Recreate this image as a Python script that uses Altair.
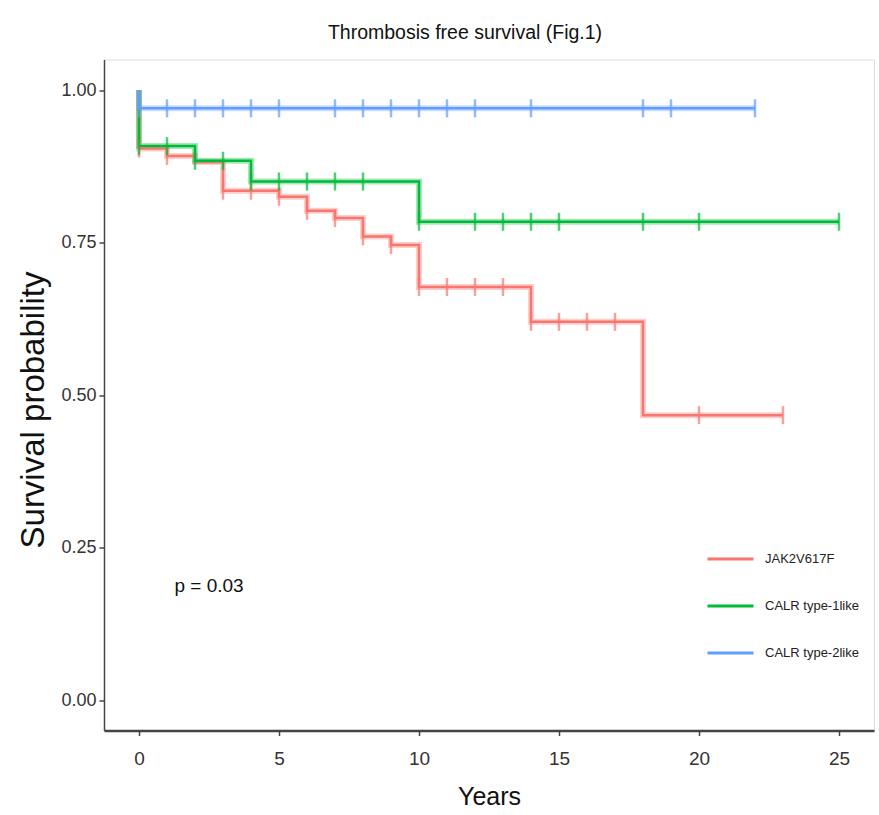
import altair as alt
import pandas as pd

FONT = "Liberation Sans, Arial, sans-serif"

groups = ["JAK2V617F", "CALR type-1like", "CALR type-2like"]
colors = ["#F8766D", "#00BA38", "#619CFF"]

# Kaplan-Meier steps: time (years) and survival from that time on
jak2_t = [0, 0, 1, 2, 3, 5, 6, 7, 8, 9, 10, 14, 18, 23]
jak2_s = [1.0, 0.904, 0.892, 0.882, 0.835, 0.825, 0.802, 0.790, 0.760, 0.746,
          0.677, 0.620, 0.467, 0.467]
calr1_t = [0, 0, 2, 4, 10, 25]
calr1_s = [1.0, 0.908, 0.884, 0.850, 0.784, 0.784]
calr2_t = [0, 0, 22]
calr2_s = [1.0, 0.970, 0.970]

# censoring times (years)
jak2_c = [0, 1, 3, 4, 5, 6, 7, 8, 9, 10, 11, 12, 13, 14, 15, 16, 17, 20, 23]
calr1_c = [0, 1, 2, 3, 4, 5, 6, 7, 8, 10, 12, 13, 14, 15, 18, 20, 25]
calr2_c = [0, 1, 2, 3, 4, 5, 7, 8, 9, 10, 11, 12, 14, 18, 19, 22]

p_label = "p = 0.03"

curves = [(jak2_t, jak2_s, jak2_c), (calr1_t, calr1_s, calr1_c), (calr2_t, calr2_s, calr2_c)]

step_rows, cens_rows = [], []
for g, (ts, ss, cs) in zip(groups, curves):
    for i, (t, s) in enumerate(zip(ts, ss)):
        step_rows.append({"group": g, "t": t, "s": s, "idx": i})
    for c in cs:
        # survival at a censoring time = last step at or before it
        s_at = [s for t, s in zip(ts, ss) if t <= c][-1]
        cens_rows.append({"group": g, "t": c, "s": s_at})

steps = pd.DataFrame(step_rows)
cens = pd.DataFrame(cens_rows)

x_enc = alt.X(
    "t:Q",
    scale=alt.Scale(domain=[-1.25, 26.25], nice=False, zero=False),
    axis=alt.Axis(values=[0, 5, 10, 15, 20, 25], title="Years", format="d",
                  titleFontSize=25, titleFont=FONT, titleFontWeight="normal",
                  titleColor="#111", titleBaseline="middle", titleY=66,
                  labelFontSize=19, labelFont=FONT, labelColor="#333",
                  labelPadding=14, tickSize=5, tickWidth=1.5, tickColor="#444",
                  domainColor="#444", domainWidth=2.5, grid=False),
)
y_enc = alt.Y(
    "s:Q",
    scale=alt.Scale(domain=[-0.05, 1.05], nice=False, zero=False),
    axis=alt.Axis(values=[0, 0.25, 0.5, 0.75, 1.0], format=".2f",
                  title="Survival probability", titleFontSize=33, titleFont=FONT,
                  titleFontWeight="normal", titleColor="#111",
                  titleBaseline="middle", titleX=-71, titleY=350, titleAngle=270,
                  labelFontSize=18, labelFont=FONT, labelColor="#333",
                  labelPadding=3, tickSize=5, tickWidth=1.5, tickColor="#444",
                  domainColor="#444", domainWidth=1.5, grid=False),
)
color_enc = alt.Color(
    "group:N",
    scale=alt.Scale(domain=groups, range=colors),
    legend=alt.Legend(title=None, orient="none", legendX=602, legendY=475,
                      symbolType="stroke", symbolSize=2116, symbolStrokeWidth=3,
                      symbolOpacity=1, labelFont=FONT, labelFontSize=13,
                      labelColor="#222", labelOffset=10, rowPadding=15, padding=0),
)

halo = alt.Chart(steps).mark_line(interpolate="step-after", strokeWidth=6, opacity=0.35).encode(
    x=x_enc, y=y_enc, color=color_enc, order=alt.Order("idx:Q"), detail="group:N"
)
core = alt.Chart(steps).mark_line(interpolate="step-after", strokeWidth=2.5).encode(
    x="t:Q", y="s:Q", color=color_enc, order=alt.Order("idx:Q"), detail="group:N"
)
ticks = alt.Chart(cens).mark_tick(orient="vertical", size=18, thickness=2.5).encode(
    x="t:Q", y="s:Q", color=color_enc
)
pval = alt.Chart(pd.DataFrame({"label": [p_label]})).mark_text(
    font=FONT, fontSize=19, color="#111", align="center", baseline="alphabetic"
).encode(x=alt.datum(2.5), y=alt.datum(0.177), text="label:N")

chart = alt.layer(halo, core, ticks, pval).properties(
    width=770,
    height=671,
    padding={"left": 104, "top": 59.5, "right": 5, "bottom": 84.5},
    autosize=alt.AutoSizeParams(type="none"),
    title=alt.TitleParams("Thrombosis free survival (Fig.1)", font=FONT, fontSize=19.5,
                          fontWeight="normal", color="#111", anchor="middle",
                          frame="group", dx=-24, offset=-3, baseline="bottom"),
).configure_view(stroke=None).configure(background="white")

chart.save("out.html", embed_options={"renderer": "svg", "actions": False})
